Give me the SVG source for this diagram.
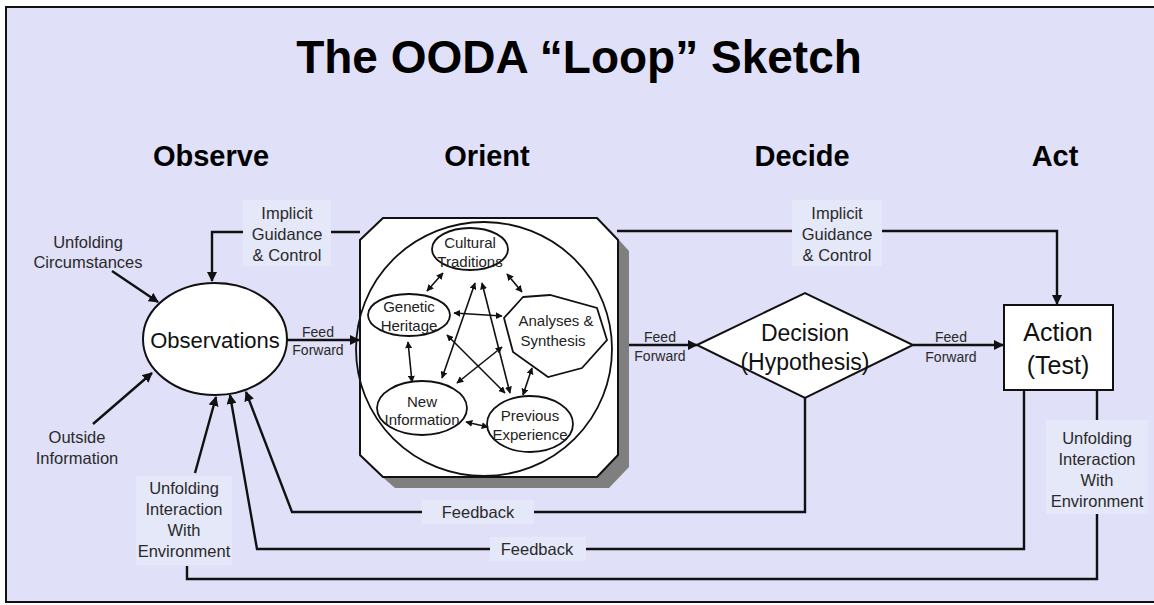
<svg xmlns="http://www.w3.org/2000/svg" width="1154" height="605" viewBox="0 0 1154 605">
  <defs>
    <marker id="arrow" viewBox="0 0 10 10" refX="9" refY="5" markerWidth="10" markerHeight="10" markerUnits="userSpaceOnUse" orient="auto">
      <path d="M0,0 L10,5 L0,10 z" fill="#111"/>
    </marker>
    <marker id="tip" viewBox="0 0 10 10" refX="9" refY="5" markerWidth="7" markerHeight="7" markerUnits="userSpaceOnUse" orient="auto-start-reverse">
      <path d="M0,0 L10,5 L0,10 z" fill="#111"/>
    </marker>
    <style>
      .title { font-family: "Liberation Sans", Arial, sans-serif; font-weight: bold; fill: #000; text-anchor: middle; }
      .lbl { font-family: "Liberation Sans", Arial, sans-serif; font-size: 16.5px; fill: #2a2a2a; text-anchor: middle; }
      .ff { font-family: "Liberation Sans", Arial, sans-serif; font-size: 14px; fill: #2a2a2a; text-anchor: middle; }
      .inner { font-family: "Liberation Sans", Arial, sans-serif; font-size: 15px; fill: #222; text-anchor: middle; }
      .big { font-family: "Liberation Sans", Arial, sans-serif; fill: #111; text-anchor: middle; }
      .shape { fill: #fff; stroke: #111; stroke-width: 2; }
      .ishape { fill: none; stroke: #111; stroke-width: 1.8; }
      .wire { fill: none; stroke: #111; stroke-width: 2.4; }
      .iwire { fill: none; stroke: #111; stroke-width: 1.6; marker-start: url(#tip); marker-end: url(#tip); }
      .pad { fill: #e5e8f9; }
    </style>
  </defs>

  <!-- page and frame -->
  <rect x="0" y="0" width="1154" height="605" fill="#fff"/>
  <rect x="6" y="7" width="1160" height="595" fill="#e0e0f8" stroke="#111" stroke-width="2"/>

  <!-- headings -->
  <text class="title" x="579" y="73" font-size="46">The OODA “Loop” Sketch</text>
  <g id="phases">
    <text class="title" x="211" y="166" font-size="29">Observe</text>
    <text class="title" x="487" y="166" font-size="29">Orient</text>
    <text class="title" x="802" y="166" font-size="29">Decide</text>
    <text class="title" x="1055" y="166" font-size="29">Act</text>
  </g>

  <!-- connectors -->
  <g id="connectors">
    <!-- implicit guidance & control, left -->
    <polyline class="wire" points="360,232 212,232 212,281" marker-end="url(#arrow)"/>
    <!-- implicit guidance & control, right -->
    <polyline class="wire" points="617,231 1057,231 1057,304" marker-end="url(#arrow)"/>
    <!-- feed forward -->
    <line class="wire" x1="287" y1="340" x2="359" y2="340" marker-end="url(#arrow)"/>
    <line class="wire" x1="629" y1="345" x2="697" y2="345" marker-end="url(#arrow)"/>
    <line class="wire" x1="913" y1="345" x2="1003" y2="345" marker-end="url(#arrow)"/>
    <!-- external inputs -->
    <line class="wire" x1="112" y1="271" x2="158" y2="302" marker-end="url(#arrow)"/>
    <line class="wire" x1="93" y1="424" x2="152" y2="373" marker-end="url(#arrow)"/>
    <line class="wire" x1="195" y1="473" x2="216" y2="397" marker-end="url(#arrow)"/>
    <!-- feedback loops -->
    <polyline class="wire" points="805,398 805,512 292,512 246,392" marker-end="url(#arrow)"/>
    <polyline class="wire" points="1024,390 1024,549 257,549 230,395" marker-end="url(#arrow)"/>
    <!-- interaction with environment -->
    <polyline class="wire" points="1097,390 1097,579 187,579 187,566"/>

    <!-- label pads that break the lines -->
    <rect class="pad" x="243" y="200" width="88" height="66"/>
    <rect class="pad" x="792" y="200" width="90" height="66"/>
    <rect class="pad" x="422" y="500" width="112" height="24"/>
    <rect class="pad" x="490" y="537" width="96" height="24"/>
    <rect class="pad" x="1046" y="420" width="102" height="94"/>
    <rect class="pad" x="136" y="476" width="96" height="89"/>

    <text class="lbl" x="287" y="219">Implicit</text>
    <text class="lbl" x="287" y="240">Guidance</text>
    <text class="lbl" x="287" y="261">&amp; Control</text>
    <text class="lbl" x="837" y="219">Implicit</text>
    <text class="lbl" x="837" y="240">Guidance</text>
    <text class="lbl" x="837" y="261">&amp; Control</text>

    <text class="ff" x="318" y="337">Feed</text>
    <text class="ff" x="318" y="355">Forward</text>
    <text class="ff" x="660" y="342">Feed</text>
    <text class="ff" x="660" y="361">Forward</text>
    <text class="ff" x="951" y="342">Feed</text>
    <text class="ff" x="951" y="362">Forward</text>

    <text class="lbl" x="88" y="248">Unfolding</text>
    <text class="lbl" x="88" y="268">Circumstances</text>
    <text class="lbl" x="77" y="443">Outside</text>
    <text class="lbl" x="77" y="464">Information</text>

    <text class="lbl" x="478" y="518">Feedback</text>
    <text class="lbl" x="537" y="555">Feedback</text>

    <text class="lbl" x="184" y="494">Unfolding</text>
    <text class="lbl" x="184" y="515">Interaction</text>
    <text class="lbl" x="184" y="536">With</text>
    <text class="lbl" x="184" y="557">Environment</text>

    <text class="lbl" x="1097" y="444">Unfolding</text>
    <text class="lbl" x="1097" y="465">Interaction</text>
    <text class="lbl" x="1097" y="486">With</text>
    <text class="lbl" x="1097" y="507">Environment</text>
  </g>

  <!-- observe -->
  <g id="observations">
    <ellipse class="shape" cx="215" cy="339" rx="72" ry="56"/>
    <text class="big" x="215" y="348" font-size="22">Observations</text>
  </g>

  <!-- orient -->
  <g id="orient">
    <polygon points="395,229 609,229 629,251 629,467 609,488 395,488 371,467 371,251" fill="#7f7f7f"/>
    <polygon class="shape" points="383,218 597,218 618,240 618,455 597,477 383,477 360,455 360,240"/>
    <ellipse class="ishape" cx="484" cy="349" rx="128" ry="127"/>

    <g id="cultural-traditions">
      <ellipse class="ishape" cx="470" cy="249" rx="38" ry="21"/>
      <text class="inner" x="470" y="248">Cultural</text>
      <text class="inner" x="470" y="267">Traditions</text>
    </g>
    <g id="genetic-heritage">
      <ellipse class="ishape" cx="409" cy="315" rx="41" ry="21"/>
      <text class="inner" x="409" y="312">Genetic</text>
      <text class="inner" x="409" y="331">Heritage</text>
    </g>
    <g id="analyses-synthesis">
      <polygon class="ishape" points="523,297 550,295 597,308 607,340 582,368 548,377 513,352 504,318"/>
      <text class="inner" x="556" y="326" font-size="16">Analyses &amp;</text>
      <text class="inner" x="553" y="346" font-size="16">Synthesis</text>
    </g>
    <g id="new-information">
      <ellipse class="ishape" cx="422" cy="408" rx="45" ry="27"/>
      <text class="inner" x="422" y="407">New</text>
      <text class="inner" x="422" y="425">Information</text>
    </g>
    <g id="previous-experience">
      <ellipse class="ishape" cx="530" cy="424" rx="43" ry="28"/>
      <text class="inner" x="530" y="421">Previous</text>
      <text class="inner" x="530" y="440">Experience</text>
    </g>

    <g id="orient-links">
      <line class="iwire" x1="443" y1="273" x2="427" y2="291"/>
      <line class="iwire" x1="507" y1="274" x2="522" y2="292"/>
      <line class="iwire" x1="454" y1="313" x2="502" y2="316"/>
      <line class="iwire" x1="408" y1="342" x2="412" y2="382"/>
      <line class="iwire" x1="532" y1="368" x2="523" y2="395"/>
      <line class="iwire" x1="466" y1="422" x2="488" y2="427"/>
      <line class="iwire" x1="475" y1="283" x2="442" y2="378"/>
      <line class="iwire" x1="482" y1="283" x2="510" y2="393"/>
      <line class="iwire" x1="447" y1="335" x2="505" y2="393"/>
      <line class="iwire" x1="502" y1="347" x2="457" y2="383"/>
    </g>
  </g>

  <!-- decide -->
  <g id="decision">
    <polygon class="shape" points="697,345 805,293 913,345 805,398"/>
    <text class="big" x="805" y="341" font-size="23">Decision</text>
    <text class="big" x="805" y="370" font-size="23">(Hypothesis)</text>
  </g>

  <!-- act -->
  <g id="action">
    <rect class="shape" x="1004" y="305" width="109" height="85"/>
    <text class="big" x="1058" y="341" font-size="25">Action</text>
    <text class="big" x="1058" y="374" font-size="25">(Test)</text>
  </g>
</svg>
